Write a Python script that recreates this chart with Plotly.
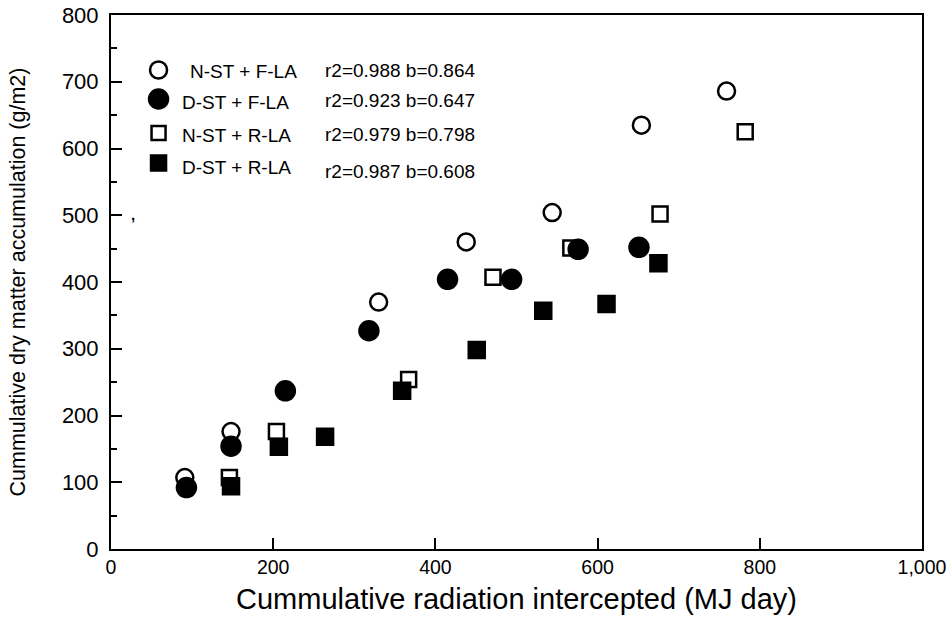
import plotly.graph_objects as go

# Cumulative radiation intercepted (MJ day) vs cumulative dry matter (g/m2)
nst_fla_x = [91, 148, 330, 438, 544, 654, 759]
nst_fla_y = [107, 176, 370, 460, 504, 635, 686]

dst_fla_x = [93, 148, 215, 318, 415, 494, 576, 651]
dst_fla_y = [92, 154, 237, 327, 404, 404, 449, 452]

nst_rla_x = [146, 204, 367, 471, 567, 677, 782]
nst_rla_y = [107, 176, 254, 407, 451, 502, 625]

dst_rla_x = [148, 207, 264, 359, 451, 533, 611, 675]
dst_rla_y = [94, 153, 168, 237, 298, 357, 367, 428]

series_names = ["N-ST + F-LA", "D-ST + F-LA", "N-ST + R-LA", "D-ST + R-LA"]
fit_labels = ["r2=0.988 b=0.864", "r2=0.923 b=0.647",
              "r2=0.979 b=0.798", "r2=0.987 b=0.608"]

x_ticks = [0, 200, 400, 600, 800, 1000]
y_ticks = [0, 100, 200, 300, 400, 500, 600, 700, 800]

FONT = "Liberation Sans, Arial, sans-serif"

fig = go.Figure()

styles = [
    (nst_fla_x, nst_fla_y, "circle-open", 17),
    (dst_fla_x, dst_fla_y, "circle", 19),
    (nst_rla_x, nst_rla_y, "square-open", 15),
    (dst_rla_x, dst_rla_y, "square", 16),
]
for (xs, ys, sym, size), name in zip(styles, series_names):
    fig.add_trace(go.Scatter(
        x=xs, y=ys, mode="markers", name=name, showlegend=False,
        marker=dict(symbol=sym, size=size, color="black",
                    line=dict(color="black", width=2.5)),
    ))

# Hand-built key in the upper-left corner of the plot area
W, H = 810.2, 534.0
X0, Y0 = 111.5, 549.0


def px(x):
    return (x - X0) / W


def py(y):
    return (Y0 - y) / H


marker_rows = [70, 99, 133, 163]
text_rows = [71, 103, 135, 167]
fit_rows = [70, 101, 134, 171]
text_x = [188, 180, 180, 180]
marker_kind = [("circle", False, 8.5), ("circle", True, 9.5),
               ("rect", False, 7), ("rect", True, 7.5)]

shapes = []
for yrow, (kind, filled, r) in zip(marker_rows, marker_kind):
    shapes.append(dict(
        type=kind, xref="paper", yref="paper",
        xsizemode="pixel", ysizemode="pixel",
        xanchor=px(159), yanchor=py(yrow),
        x0=-r, x1=r, y0=-r, y1=r,
        line=dict(color="black", width=2.5),
        fillcolor="black" if filled else "white",
    ))

annotations = []
for name, fit, ty, fy, tx in zip(series_names, fit_labels, text_rows, fit_rows, text_x):
    annotations.append(dict(
        text=name, xref="paper", yref="paper", x=px(tx), y=py(ty),
        xanchor="left", yanchor="middle", showarrow=False,
        font=dict(family=FONT, size=19, color="black"),
    ))
    annotations.append(dict(
        text=fit, xref="paper", yref="paper", x=px(323), y=py(fy),
        xanchor="left", yanchor="middle", showarrow=False,
        font=dict(family=FONT, size=19, color="black"),
    ))

# small stray mark near the left axis
annotations.append(dict(
    text="<b>,</b>", xref="paper", yref="paper", x=px(133), y=py(214),
    xanchor="center", yanchor="middle", showarrow=False,
    font=dict(family=FONT, size=15, color="black"),
))

fig.update_layout(
    width=948, height=623,
    margin=dict(l=111, r=26, t=15, b=74),
    paper_bgcolor="white", plot_bgcolor="white",
    font=dict(family=FONT, color="black"),
    shapes=shapes, annotations=annotations,
)

fig.update_xaxes(
    range=[0, 1000], tickvals=x_ticks, tickformat=",",
    ticks="inside", ticklen=11, tickwidth=2, tickcolor="black",
    showline=True, linewidth=2, linecolor="black", mirror=True,
    showgrid=False, zeroline=False,
    tickfont=dict(family=FONT, size=19.5), ticklabeloverflow="allow",
    title=dict(text="Cummulative radiation intercepted (MJ day)",
               font=dict(family=FONT, size=29), standoff=11),
    automargin=False,
)
fig.update_yaxes(
    range=[0, 800], tickvals=y_ticks,
    ticks="inside", ticklen=11, tickwidth=2, tickcolor="black",
    minor=dict(ticks="inside", ticklen=6, tickwidth=2, dtick=50,
               tickcolor="black", showgrid=False),
    showline=True, linewidth=2, linecolor="black", mirror=True,
    showgrid=False, zeroline=False,
    tickfont=dict(family=FONT, size=22), ticklabelstandoff=6,
    ticklabeloverflow="allow",
    title=dict(text="Cummulative dry matter accumulation (g/m2)",
               font=dict(family=FONT, size=21.5), standoff=30),
    automargin=False,
)

fig.write_html("out.html")
